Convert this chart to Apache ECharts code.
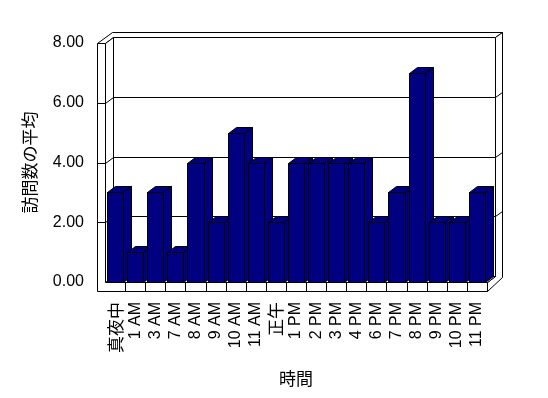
<!DOCTYPE html>
<html>
<head>
<meta charset="utf-8">
<script src="https://cdn.jsdelivr.net/npm/echarts@6/dist/echarts.min.js"></script>
<style>
  html, body { margin: 0; padding: 0; background: #fff; }
  #chart { width: 548px; height: 398px; }
</style>
</head>
<body>
<div id="chart"></div>
<script>
// データ
const categories = ['真夜中', '1 AM', '3 AM', '7 AM', '8 AM', '9 AM', '10 AM', '11 AM', '正午',
  '1 PM', '2 PM', '3 PM', '4 PM', '6 PM', '7 PM', '8 PM', '9 PM', '10 PM', '11 PM']
const visits = [3, 1, 3, 1, 4, 2, 5, 4, 2, 4, 4, 4, 4, 2, 3, 7, 2, 2, 3]
const yTicks = [0, 2, 4, 6, 8]

// 奥行き (Excel風の3D)
const DX = 8, DY = -6
const WALL_X = 7, WALL_Y = -5   // 背面の壁の厚み
const LEFT_W = 8                // 左の壁の厚み
const FLOOR_H = 9               // 床の厚み

const FONT = "'Liberation Sans', 'Noto Sans CJK JP', sans-serif"
const JP_FONT = "'Noto Sans CJK JP', sans-serif"
const lineStyle = { fill: '#fff', stroke: '#000', lineWidth: 1 }
const barStyle = { fill: '#000080', stroke: '#000', lineWidth: 1 }

const px = v => Math.round(v) + 0.5

function poly(points, style) {
  return { type: 'polygon', shape: { points: points.map(p => [px(p[0]), px(p[1])]) }, style: style }
}
function line(x1, y1, x2, y2) {
  return { type: 'line', shape: { x1: px(x1), y1: px(y1), x2: px(x2), y2: px(y2) }, style: { stroke: '#000', lineWidth: 1 } }
}

// 壁と床
function renderFrame(params, api) {
  const cs = params.coordSys
  const x0 = cs.x, x1 = cs.x + cs.width
  const yT = cs.y, yB = cs.y + cs.height
  const band = api.size([1, 0])[0]
  let children = []

  // 上面 (左の壁 + 背面の壁)
  children.push(poly([[x0 - LEFT_W, yT], [x0, yT], [x0 + DX, yT + DY], [x1 + DX, yT + DY],
    [x1 + DX + WALL_X, yT + DY + WALL_Y], [x0 - LEFT_W + DX + WALL_X, yT + DY + WALL_Y]], lineStyle))
  // 背面
  children.push(poly([[x0 + DX, yT + DY], [x1 + DX, yT + DY], [x1 + DX, yB + DY], [x0 + DX, yB + DY]], lineStyle))
  // 右側面 (壁 + 床)
  children.push(poly([[x1 + DX, yT + DY], [x1 + DX + WALL_X, yT + DY + WALL_Y], [x1 + DX + WALL_X, yB + WALL_Y],
    [x1, yB + FLOOR_H], [x1, yB], [x1 + DX, yB + DY]], lineStyle))
  // 床の上面
  children.push(poly([[x0, yB], [x1, yB], [x1 + DX, yB + DY], [x0 + DX, yB + DY]], lineStyle))
  // 左の壁の内側
  children.push(poly([[x0, yT], [x0 + DX, yT + DY], [x0 + DX, yB + DY], [x0, yB]], lineStyle))
  // 前面 (左の壁 + 床)
  children.push(poly([[x0 - LEFT_W, yT], [x0, yT], [x0, yB], [x1, yB], [x1, yB + FLOOR_H], [x0 - LEFT_W, yB + FLOOR_H]], lineStyle))

  // 目盛線
  yTicks.forEach(v => {
    if (v === yTicks[0] || v === yTicks[yTicks.length - 1]) return
    const gy = api.coord([0, v])[1]
    children.push(line(x0 + DX, gy + DY, x1 + DX, gy + DY))
    children.push(line(x1 + DX, gy + DY, x1 + DX + WALL_X, gy + DY + WALL_Y))
    children.push(line(x0, gy, x0 + DX, gy + DY))
    children.push(line(x0 - LEFT_W, gy, x0, gy))
  })
  // 床の区切り
  for (let i = 1; i < categories.length; i++) {
    const bx = x0 + band * i
    children.push(line(bx, yB, bx, yB + FLOOR_H))
  }
  return { type: 'group', children: children }
}

// 3D棒
function renderBar(params, api) {
  const top = api.coord([api.value(0), api.value(1)])
  const base = api.coord([api.value(0), 0])
  const w = api.size([1, 0])[0] * 0.8
  const xl = top[0] - w / 2, xr = top[0] + w / 2
  const yt = top[1], yb = base[1]
  return {
    type: 'group',
    children: [
      poly([[xl, yt], [xr, yt], [xr, yb], [xl, yb]], barStyle),
      poly([[xl, yt], [xl + DX, yt + DY], [xr + DX, yt + DY], [xr, yt]], barStyle),
      poly([[xr, yt], [xr + DX, yt + DY], [xr + DX, yb + DY], [xr, yb]], barStyle)
    ]
  }
}

const chart = echarts.init(document.getElementById('chart'), null, { renderer: 'canvas' })
chart.setOption({
  backgroundColor: '#fff',
  animation: false,
  grid: { left: 105, right: 61, top: 43, bottom: 116 },
  xAxis: {
    type: 'category',
    data: categories,
    name: '時間',
    nameLocation: 'middle',
    nameGap: 88,
    nameTextStyle: { fontFamily: JP_FONT, fontSize: 17, color: '#000' },
    axisLine: { show: false },
    axisTick: { show: false },
    axisLabel: {
      rotate: 90, interval: 0, margin: 20, fontFamily: FONT, fontSize: 16, color: '#000',
      formatter: v => /[^\x00-\x7f]/.test(v) ? '{jp|' + v + '}' : v,
      rich: { jp: { fontFamily: JP_FONT, fontSize: 17, color: '#000' } }
    }
  },
  yAxis: {
    type: 'value',
    min: 0,
    max: 8,
    interval: 2,
    name: '訪問数の平均',
    nameLocation: 'middle',
    nameRotate: 90,
    nameGap: 67,
    nameTextStyle: { fontFamily: JP_FONT, fontSize: 17, color: '#000' },
    axisLine: { show: false },
    axisTick: { show: false },
    splitLine: { show: false },
    axisLabel: { margin: 21, fontFamily: FONT, fontSize: 16, color: '#000', formatter: v => v.toFixed(2) }
  },
  series: [
    {
      type: 'custom',
      renderItem: renderFrame,
      data: [[0, 0]],
      encode: { x: 0, y: 1 },
      silent: true,
      z: 1
    },
    {
      type: 'custom',
      renderItem: renderBar,
      data: visits.map((v, i) => [i, v]),
      encode: { x: 0, y: 1 },
      z: 2
    }
  ]
})
</script>
</body>
</html>
